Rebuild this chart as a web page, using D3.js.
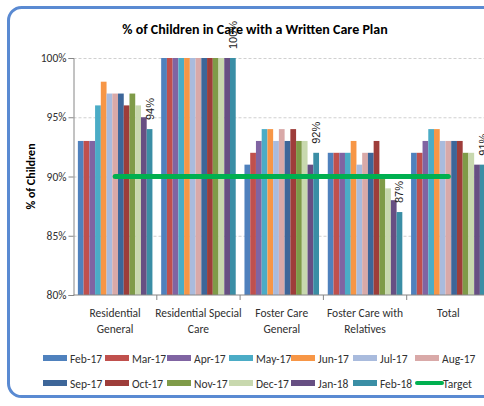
<!DOCTYPE html>
<html>
<head>
<meta charset="utf-8">
<script src="https://cdn.jsdelivr.net/npm/d3@7"></script>
<style>
  body { margin: 0; overflow: hidden; background: #fff; }
  svg text { font-family: Carlito, Calibri, "Liberation Sans Narrow", Lato, sans-serif; }
</style>
</head>
<body>
<div id="chart"></div>
<script>
// chart data
let categories = ["Residential General", "Residential Special Care", "Foster Care General", "Foster Care with Relatives", "Total"]
let categoryLines = [["Residential", "General"], ["Residential Special", "Care"], ["Foster Care", "General"], ["Foster Care with", "Relatives"], ["Total"]]
let months = ["Feb-17", "Mar-17", "Apr-17", "May-17", "Jun-17", "Jul-17", "Aug-17", "Sep-17", "Oct-17", "Nov-17", "Dec-17", "Jan-18", "Feb-18"]
let monthColors = ["#4F81BD", "#C0504D", "#8064A2", "#4BACC6", "#F79646", "#A9BBDD", "#D9A9A8", "#3D6699", "#9E3D3A", "#7F9B48", "#C8D8AE", "#674F83", "#3A8EA5"]
// % per month, one entry per category
let values = {
  "Feb-17": [93, 100, 91, 92, 92],
  "Mar-17": [93, 100, 92, 92, 92],
  "Apr-17": [93, 100, 93, 92, 93],
  "May-17": [96, 100, 94, 92, 94],
  "Jun-17": [98, 100, 94, 93, 94],
  "Jul-17": [97, 100, 93, 91, 93],
  "Aug-17": [97, 100, 94, 92, 93],
  "Sep-17": [97, 100, 93, 92, 93],
  "Oct-17": [96, 100, 94, 93, 93],
  "Nov-17": [97, 100, 93, 90, 92],
  "Dec-17": [96, 100, 93, 89, 92],
  "Jan-18": [95, 100, 91, 88, 91],
  "Feb-18": [94, 100, 92, 87, 91]
}
let target = [90, 90, 90, 90, 90]
let yTicks = [80, 85, 90, 95, 100]

// dimensions
let margin = {top: 58, right: 0, bottom: 111, left: 73.5},
    width = 416.5,
    height = 237;

let svg = d3.select("#chart")
  .append("svg")
    .attr("width", 484)
    .attr("height", 406)

// outer rounded frame
svg.append("rect")
  .attr("x", 8.5).attr("y", 7.5)
  .attr("width", 520).attr("height", 389)
  .attr("rx", 13).attr("ry", 13)
  .attr("fill", "none")
  .attr("stroke", "#5A8AD2")
  .attr("stroke-width", 3)

svg.append("text")
  .attr("x", 255).attr("y", 34)
  .attr("text-anchor", "middle")
  .style("font-size", "14px")
  .style("font-weight", "bold")
  .text("% of Children in Care with a Written Care Plan")

let plot = svg.append("g")
  .attr("transform", "translate(" + margin.left + "," + margin.top + ")")

let x = d3.scaleBand()
  .domain(categories)
  .range([0, width])
  .paddingInner(0.105)
  .paddingOuter(0.0525)

let xm = d3.scaleBand()
  .domain(months)
  .range([0, x.bandwidth()])

let y = d3.scaleLinear()
  .domain([80, 100])
  .range([height, 0])

// gridlines
plot.append("g")
  .call(d3.axisLeft(y).tickValues(yTicks.slice(1)).tickSize(-width).tickFormat(""))
  .call(g => g.select(".domain").remove())
  .selectAll("line")
    .attr("stroke", "#D0D0D0")
    .attr("stroke-dasharray", "3,2")

// bars
months.forEach(function(m, mi) {
  plot.append("g")
    .selectAll("rect")
    .data(values[m])
    .enter()
    .append("rect")
      .attr("x", (d, i) => x(categories[i]) + xm(m))
      .attr("y", d => y(d))
      .attr("width", xm.bandwidth())
      .attr("height", d => height - y(d))
      .attr("fill", monthColors[mi])
})

// labels on the last month
let last = months[months.length - 1]
plot.append("g")
  .selectAll("text")
  .data(values[last])
  .enter()
  .append("text")
    .attr("transform", (d, i) => "translate(" + (x(categories[i]) + xm(last) + xm.bandwidth() / 2 + 4) + "," + (y(d) - 9) + ") rotate(-90)")
    .style("font-family", "'Liberation Sans', Arial, sans-serif")
    .style("font-size", "11px")
    .attr("fill", "#222")
    .text(d => d + "%")

// y axis
let yAxis = plot.append("g")
  .call(d3.axisLeft(y).tickValues(yTicks).tickSize(5).tickPadding(2).tickFormat(d => d + "%"))
yAxis.selectAll("text").style("font-size", "11.5px").attr("fill", "#303030")
yAxis.selectAll("line").attr("stroke", "#868686")
yAxis.select(".domain").attr("stroke", "#868686")

// x axis line and ticks between categories
plot.append("line")
  .attr("x1", 0).attr("x2", width)
  .attr("y1", height).attr("y2", height)
  .attr("stroke", "#868686")
let gap = x.step() * x.paddingInner()
plot.append("g")
  .selectAll("line")
  .data(categories.slice(1))
  .enter()
  .append("line")
    .attr("x1", d => x(d) - gap / 2).attr("x2", d => x(d) - gap / 2)
    .attr("y1", height).attr("y2", height + 5)
    .attr("stroke", "#868686")

// category labels
plot.append("g")
  .selectAll("text")
  .data(categories)
  .enter()
  .append("text")
    .attr("x", d => x(d) + x.bandwidth() / 2)
    .attr("y", height + 22)
    .attr("text-anchor", "middle")
    .style("font-size", "11.5px")
    .attr("fill", "#303030")
    .each(function(d, i) {
      d3.select(this).selectAll("tspan")
        .data(categoryLines[i])
        .enter()
        .append("tspan")
          .attr("x", x(d) + x.bandwidth() / 2)
          .attr("dy", (t, j) => j == 0 ? 0 : 16)
          .text(t => t)
    })

// target line
let tline = d3.line()
  .x((d, i) => x(categories[i]) + x.bandwidth() / 2)
  .y(d => y(d))
plot.append("path")
  .datum(target)
  .attr("d", tline)
  .attr("fill", "none")
  .attr("stroke", "#00B050")
  .attr("stroke-width", 5)
  .attr("stroke-linecap", "round")

// y title
svg.append("text")
  .attr("transform", "translate(35," + (margin.top + height / 2) + ") rotate(-90)")
  .attr("text-anchor", "middle")
  .style("font-size", "12px")
  .style("font-weight", "bold")
  .text("% of Children")

// legend
let legendItems = months.concat(["Target"])
let legend = svg.append("g")
  .selectAll("g")
  .data(legendItems)
  .enter()
  .append("g")
    .attr("transform", (d, i) => "translate(" + (43 + (i % 7) * 62) + "," + (358 + Math.floor(i / 7) * 25) + ")")

legend.filter(d => d != "Target")
  .append("rect")
    .attr("x", 0).attr("y", -3)
    .attr("width", 24).attr("height", 6)
    .attr("fill", (d, i) => monthColors[i])

legend.filter(d => d == "Target")
  .append("line")
    .attr("x1", 2).attr("x2", 27)
    .attr("y1", 0).attr("y2", 0)
    .attr("stroke", "#00B050")
    .attr("stroke-width", 4)
    .attr("stroke-linecap", "round")

legend.append("text")
  .attr("x", d => d == "Target" ? 28 : 27)
  .attr("y", 4.5)
  .style("font-size", "11.5px")
  .attr("fill", "#303030")
  .text(d => d)
</script>
</body>
</html>
